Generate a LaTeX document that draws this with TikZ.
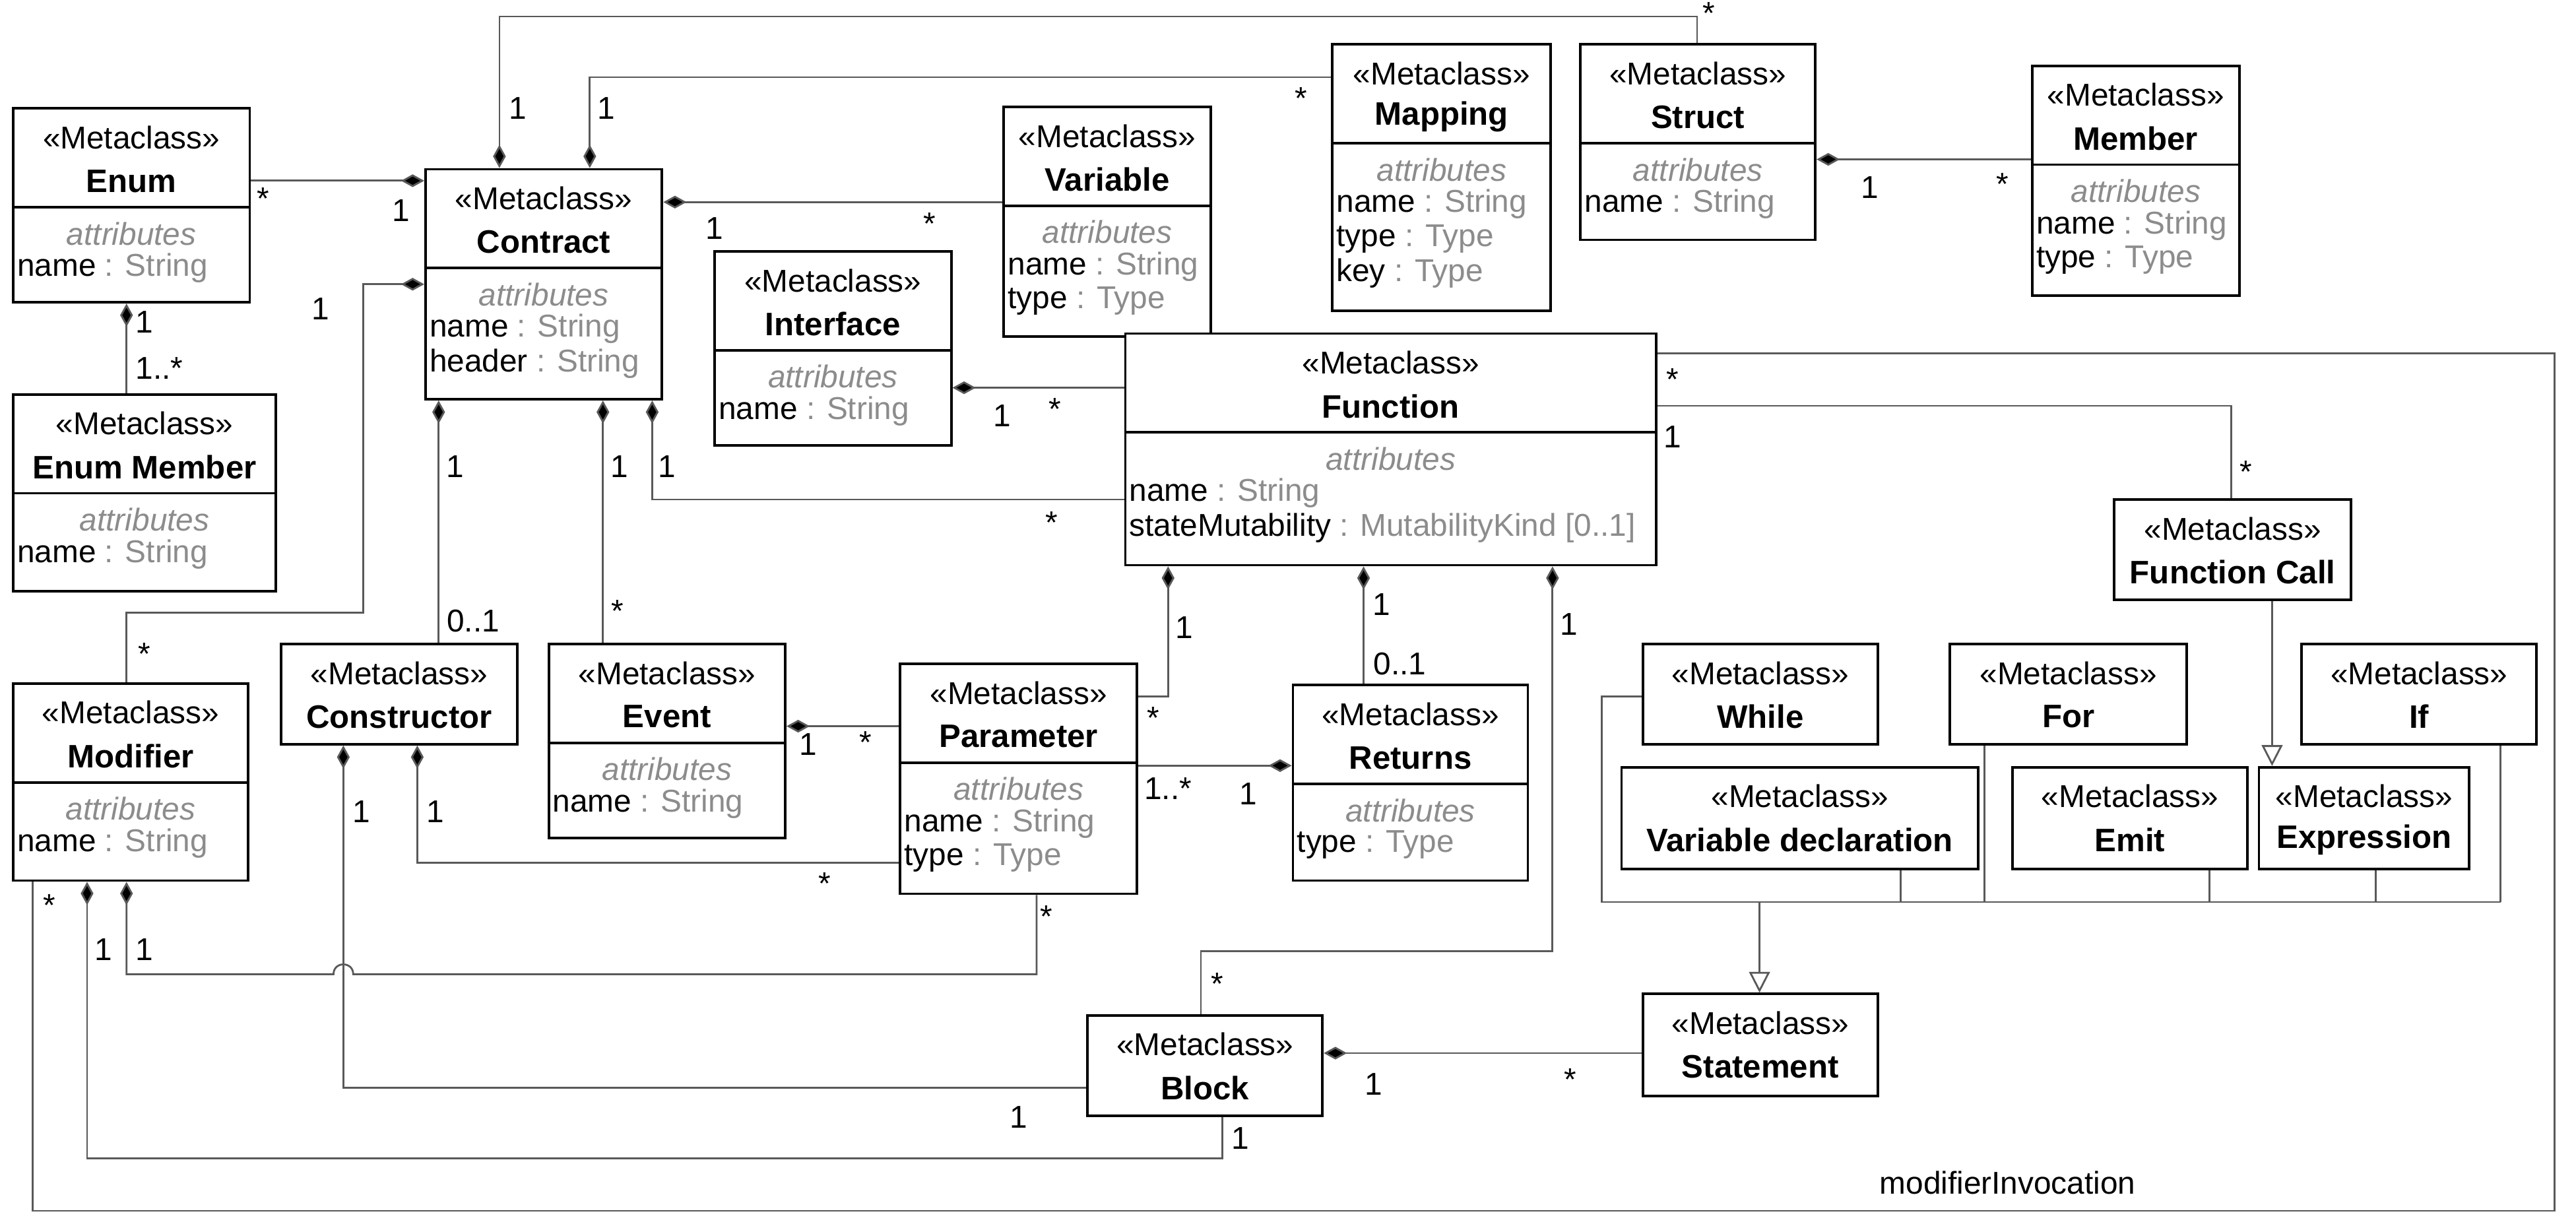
\documentclass[tikz,border=0pt]{standalone}
\usepackage{fontspec}
\setmainfont{Liberation Sans}
\usetikzlibrary{arrows.meta,calc,fit}

\definecolor{lngray}{gray}{0.35}
\definecolor{atgray}{gray}{0.55}

\tikzset{
  cls/.style={draw=black, line width=1.1pt, inner sep=0pt, fill=white},
  ster/.style={inner sep=0pt, font=\fontsize{13.6}{16}\selectfont},
  ttl/.style={inner sep=0pt, font=\fontsize{14}{16}\selectfont\bfseries},
  att/.style={inner sep=0pt, anchor=west, font=\fontsize{13.6}{16}\selectfont},
  attl/.style={inner sep=0pt, text=atgray, font=\fontsize{13.6}{16}\selectfont\itshape},
  lbl/.style={inner sep=0pt, font=\fontsize{13.6}{16}\selectfont},
  ln/.style={draw=lngray, line width=0.8pt},
  comp/.style={ln, -{Diamond[length=10pt,width=5.5pt,fill=black]}},
  gen/.style={ln, -{Triangle[open,length=9pt,width=9pt,fill=white]}}
}

% class box: name, x1, y1, x2, y2, title, attribute list
\newcommand{\mcls}[7]{%
  \node[cls, fit={(#2,#3) (#4,#5)}] (#1) {};
  \node[ster] (#1-s) at ($(#1.north)+(0,18.5)$) {«Metaclass»};
  \node[ttl] (#1-t) at ($(#1.north)+(0,45)$) {#6};
  \def\attlist{#7}%
  \ifx\attlist\empty\else
    \draw[line width=1.1pt] ($(#1.north west)+(0,61)$) -- ($(#1.north east)+(0,61)$);
    \node[attl] (#1-a) at ($(#1.north)+(0,77)$) {attributes};
    \foreach \a/\t [count=\i] in {#7} {
      \node[att] (#1-\i) at ($(#1.north west)+(3,77+21*\i)$) {\a\ {\color{atgray}: \t}};
    }
  \fi
}
% multiplicity label
\newcommand{\ml}[4]{\node[lbl] (#1) at (#2,#3) {#4};}

\begin{document}
\begin{tikzpicture}[x=0.0249cm, y=-0.0249cm]
  \useasboundingbox[fill=white] (0,0) rectangle (1568,746);

  % classes
  \mcls{enum}{8}{66}{152}{184}{Enum}{name/String}
  \mcls{emem}{8}{240}{168}{360}{Enum Member}{name/String}
  \mcls{contract}{259}{103}{403}{243}{Contract}{name/String, header/String}
  \mcls{interface}{435}{153}{579}{271}{Interface}{name/String}
  \mcls{variable}{611}{65}{737}{205}{Variable}{name/String, type/Type}
  \mcls{mapping}{811}{27}{944}{189}{Mapping}{name/String, type/Type, key/Type}
  \mcls{struct}{962}{27}{1105}{146}{Struct}{name/String}
  \mcls{member}{1237}{40}{1363}{180}{Member}{name/String, type/Type}
  \mcls{function}{685}{203}{1008}{344}{Function}{name/String, stateMutability/{MutabilityKind [0..1]}}
  \mcls{fcall}{1287}{304}{1431}{365}{Function Call}{}
  \mcls{modifier}{8}{416}{151}{536}{Modifier}{name/String}
  \mcls{constructor}{171}{392}{315}{453}{Constructor}{}
  \mcls{event}{334}{392}{478}{510}{Event}{name/String}
  \mcls{parameter}{548}{404}{692}{544}{Parameter}{name/String, type/Type}
  \mcls{returns}{787}{417}{930}{536}{Returns}{type/Type}
  \mcls{block}{662}{618}{805}{679}{Block}{}
  \mcls{statement}{1000}{605}{1143}{667}{Statement}{}
  \mcls{while}{1000}{392}{1143}{453}{While}{}
  \mcls{for}{1187}{392}{1331}{453}{For}{}
  \mcls{if}{1401}{392}{1544}{453}{If}{}
  \mcls{vdecl}{987}{467}{1204}{529}{Variable declaration}{}
  \mcls{emit}{1225}{467}{1368}{529}{Emit}{}
  \mcls{expr}{1375}{467}{1503}{529}{Expression}{}

  % compositions
  \draw[comp] (enum.east |- 0,110) -- (contract.west |- 0,110);
  \draw[comp] (emem.north -| 77,0) -- (enum.south -| 77,0);
  \draw[comp] (struct.north -| 1033,0) -- (1033,10) -| (contract.north -| 304,0);
  \draw[comp] (mapping.west |- 0,47) -| (contract.north -| 359,0);
  \draw[comp] (variable.west |- 0,123) -- (contract.east |- 0,123);
  \draw[comp] (member.west |- 0,97) -- (struct.east |- 0,97);
  \draw[comp] (function.west |- 0,236) -- (interface.east |- 0,236);
  \draw[comp] (function.west |- 0,304) -| (contract.south -| 397,0);
  \draw[comp] (constructor.north -| 267,0) -- (contract.south -| 267,0);
  \draw[comp] (event.north -| 367,0) -- (contract.south -| 367,0);
  \draw[comp] (modifier.north -| 77,0) |- (221,373) |- (contract.west |- 0,173);
  \draw[comp] (parameter.west |- 0,442) -- (event.east |- 0,442);
  \draw[comp] (parameter.east |- 0,424) -| (function.south -| 711,0);
  \draw[comp] (parameter.east |- 0,466) -- (returns.west |- 0,466);
  \draw[comp] (returns.north -| 830,0) -- (function.south -| 830,0);
  \draw[comp] (parameter.west |- 0,525) -| (constructor.south -| 254,0);
  \draw[comp] (parameter.south -| 631,0) |- (215,593) .. controls (215,585) and (203,585) .. (203,593) -| (modifier.south -| 77,0);
  \draw[comp] (block.west |- 0,662) -| (constructor.south -| 209,0);
  \draw[comp] (block.south -| 744,0) -- (744,705) -| (modifier.south -| 53,0);
  \draw[comp] (block.north -| 731,0) |- (945,579) -- (function.south -| 945,0);
  \draw[comp] (statement.west |- 0,641) -- (block.east |- 0,641);

  % associations
  \draw[ln] (function.east |- 0,247) -| (fcall.north -| 1358,0);
  \draw[ln] (function.east |- 0,215) -| (1555,737) -| (modifier.south -| 20,0);
  \node[lbl] (modinv) at (1222,720) {modifierInvocation};

  % generalizations
  \draw[gen] (fcall.south -| 1383,0) -- (expr.north -| 1383,0);
  \coordinate (bar) at (1071,549);
  \draw[ln] (while.west |- 0,424) -| (975,549) -- (1522,549);
  \foreach \n/\x in {vdecl/1157, for/1208, emit/1345, expr/1446, if/1522}
    \draw[ln] (\n.south -| \x,0) -- (\x,549);
  \draw[gen] (bar) -- (statement.north -| bar);

  % multiplicities
  \ml{m1}{160}{121}{*}  \ml{m2}{244}{128}{1}
  \ml{m3}{88}{196}{1}   \ml{m4}{97}{224}{1..*}
  \ml{m5}{315}{66}{1}   \ml{m6}{1040}{8}{*}
  \ml{m7}{369}{66}{1}   \ml{m8}{792}{60}{*}
  \ml{m9}{435}{139}{1}  \ml{m10}{566}{136}{*}
  \ml{m11}{1138}{114}{1} \ml{m12}{1219}{112}{*}
  \ml{m13}{610}{253}{1} \ml{m14}{642}{249}{*}
  \ml{m15}{406}{284}{1} \ml{m16}{640}{318}{*}
  \ml{m17}{277}{284}{1} \ml{m18}{288}{378}{0..1}
  \ml{m19}{377}{284}{1} \ml{m20}{376}{372}{*}
  \ml{m21}{195}{188}{1} \ml{m22}{88}{398}{*}
  \ml{m23}{492}{453}{1} \ml{m24}{527}{452}{*}
  \ml{m25}{721}{382}{1} \ml{m26}{702}{437}{*}
  \ml{m27}{711}{480}{1..*} \ml{m28}{760}{483}{1}
  \ml{m29}{841}{368}{1} \ml{m30}{852}{404}{0..1}
  \ml{m31}{265}{494}{1} \ml{m32}{502}{538}{*}
  \ml{m33}{88}{578}{1}  \ml{m34}{637}{558}{*}
  \ml{m35}{220}{494}{1} \ml{m36}{620}{680}{1}
  \ml{m37}{63}{578}{1}  \ml{m38}{755}{693}{1}
  \ml{m39}{955}{380}{1} \ml{m40}{741}{599}{*}
  \ml{m41}{836}{660}{1} \ml{m42}{956}{657}{*}
  \ml{m43}{1018}{266}{1} \ml{m44}{1367}{287}{*}
  \ml{m45}{1018}{231}{*} \ml{m46}{30}{551}{*}
\end{tikzpicture}
\end{document}
